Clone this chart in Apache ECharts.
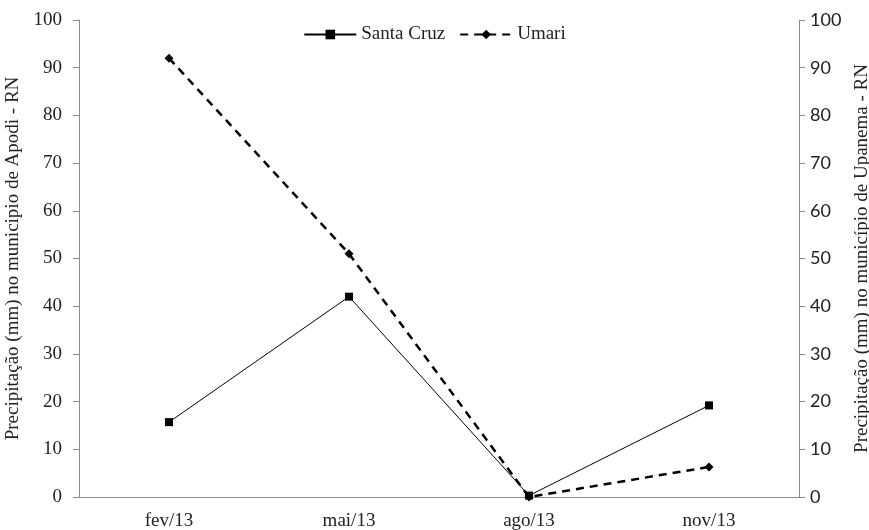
<!DOCTYPE html>
<html>
<head>
<meta charset="utf-8">
<script src="https://cdn.jsdelivr.net/npm/echarts@6/dist/echarts.min.js"></script>
<style>html,body{margin:0;padding:0;background:#fff;}#c{width:869px;height:530px;}</style>
</head>
<body>
<div id="c"></div>
<script>
const categories = ['fev/13', 'mai/13', 'ago/13', 'nov/13'];
const santaCruz = [15.7, 42, 0.3, 19.2];
const umari = [92, 51, 0, 6.3];
const leftTitle = 'Precipitação (mm) no municipio de Apodi - RN';
const rightTitle = 'Precipitação (mm) no município de Upanema - RN';

const chart = echarts.init(document.getElementById('c'), null, {renderer: 'canvas'});
const serif = '"Liberation Serif", "Times New Roman", serif';
const sans = 'Lato, "Open Sans", sans-serif';
chart.setOption({
  backgroundColor: '#fff',
  animation: false,
  grid: {left: 79, right: 70, top: 20, bottom: 33, containLabel: false, outerBoundsMode: 'none'},
  legend: {
    top: 20, left: 'center',
    itemWidth: 52, itemHeight: 12, itemGap: 14,
    textStyle: {fontFamily: serif, fontSize: 19, color: '#222'},
    data: ['Santa Cruz', 'Umari']
  },
  xAxis: {
    type: 'category', data: categories, boundaryGap: true,
    axisLine: {lineStyle: {color: '#8c8c8c', width: 1}},
    axisTick: {show: false},
    axisLabel: {fontFamily: serif, fontSize: 19, color: '#222', margin: 15}
  },
  yAxis: [
    {
      type: 'value', min: 0, max: 100, interval: 10, position: 'left',
      name: leftTitle, nameLocation: 'middle', nameGap: 58, nameRotate: 90,
      nameTextStyle: {fontFamily: serif, fontSize: 19, color: '#222', verticalAlign: 'middle'},
      splitLine: {show: false},
      axisLine: {show: true, lineStyle: {color: '#8c8c8c'}},
      axisTick: {show: true, length: 6, lineStyle: {color: '#8c8c8c'}},
      axisLabel: {fontFamily: serif, fontSize: 19, color: '#222', margin: 17}
    },
    {
      type: 'value', min: 0, max: 100, interval: 10, position: 'right',
      name: rightTitle, nameLocation: 'middle', nameGap: 57, nameRotate: 90,
      nameTextStyle: {fontFamily: serif, fontSize: 19, color: '#222', verticalAlign: 'middle'},
      splitLine: {show: false},
      axisLine: {show: true, lineStyle: {color: '#8c8c8c'}},
      axisTick: {show: true, length: 6, lineStyle: {color: '#8c8c8c'}},
      axisLabel: {fontFamily: sans, fontSize: 18, color: '#222', margin: 11}
    }
  ],
  series: [
    {
      name: 'Santa Cruz', type: 'line', yAxisIndex: 0, data: santaCruz,
      symbol: 'rect', symbolSize: 8,
      lineStyle: {color: '#000', width: 1},
      itemStyle: {color: '#000'}
    },
    {
      name: 'Umari', type: 'line', yAxisIndex: 1, data: umari,
      symbol: 'diamond', symbolSize: 9,
      lineStyle: {color: '#000', width: 2.5, type: [8, 6]},
      itemStyle: {color: '#000'}
    }
  ]
});
</script>
</body>
</html>
